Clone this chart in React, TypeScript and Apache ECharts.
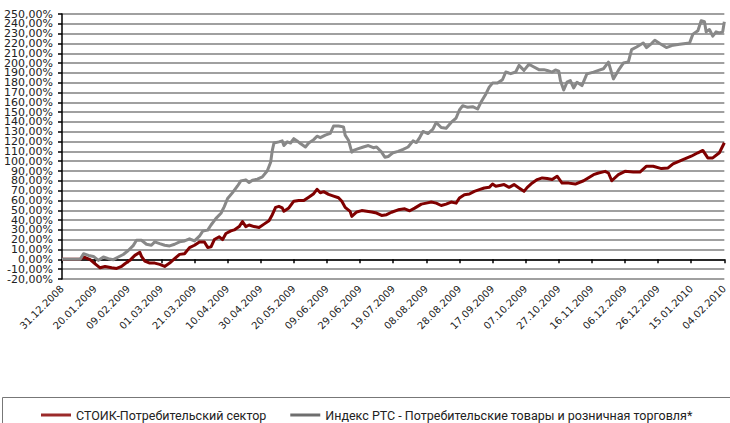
import React, { useEffect, useRef } from "react";
import * as echarts from "echarts";

// Day offsets are counted from 31.12.2008
const START_DATE = Date.UTC(2008, 11, 31);
const X_MIN_DAYS = 0;
const X_MAX_DAYS = 400;
const X_TICK_STEP_DAYS = 20;

const Y_MIN = -20;
const Y_MAX = 250;
const Y_STEP = 10;

const seriesNames = [
  "СТОИК-Потребительский сектор",
  "Индекс РТС - Потребительские товары и розничная торговля*",
];

const stoikDays = [
  0, 11, 13, 17, 20, 23, 26, 30, 33, 36, 38, 41, 44, 47, 48, 50, 53, 56, 59, 62,
  65, 68, 71, 74, 77, 80, 83, 86, 88, 90, 92, 95, 97, 99, 102, 104, 107, 109, 111, 113,
  116, 119, 122, 125, 127, 129, 131, 133, 134, 137, 140, 143, 146, 149, 152, 154, 156, 158, 161, 164,
  167, 169, 171, 174, 175, 178, 181, 184, 187, 190, 193, 196, 199, 203, 207, 210, 213, 217, 220, 223,
  226, 229, 232, 235, 238, 240, 243, 246, 249, 252, 255, 258, 260, 262, 265, 267, 270, 273, 276, 279,
  281, 284, 287, 290, 293, 296, 299, 302, 306, 310, 315, 321, 324, 328, 330, 332, 336, 340, 345, 349,
  353, 357, 362, 366, 369, 375, 380, 384, 387, 390, 393, 397, 400,
];
const stoikValues = [
  0, 0, 2.4, -0.3, -4.5, -8.6, -7.2, -8.6, -9.2, -7.2, -4.5, -1, 4.1, 7.2, 3, -1.7, -3.8, -3.8, -5.1, -7.2,
  -3.8, 0.7, 5.1, 5.8, 12, 14.4, 17.8, 17.8, 12, 12.7, 20.2, 23, 20.2, 26.4, 29, 30, 33.4, 38.6, 33.4, 35,
  33.4, 32.4, 35.9, 39.3, 45.5, 53, 54, 52.4, 49, 52.4, 59.3, 60, 60, 63.4, 66.9, 71.4, 67.9, 69, 66.2, 64.5,
  62.8, 59.3, 53, 48.9, 43.8, 48.3, 49.7, 49, 48.3, 47.2, 44.8, 45.5, 48, 50.5, 51.5, 49.5, 52.2, 56.3, 57.3, 58.4,
  57.3, 54.9, 56.3, 58.4, 57.3, 62.5, 65.9, 66.6, 69.3, 71, 72.7, 73.4, 76.8, 74.5, 75.5, 76.2, 73.4, 76.2, 72.7, 69.3,
  73.4, 77.9, 81.3, 83, 82.3, 81.3, 84.7, 77.7, 77.7, 76.7, 80.1, 86.3, 88, 89.7, 88, 80.1, 86.3, 89.7, 89, 89,
  94.9, 94.9, 92.5, 93.2, 97.3, 101.7, 105.1, 108.6, 111, 103.4, 103.4, 108.6, 118.8,
];

const rtsDays = [
  0, 11, 13, 16, 19, 22, 25, 28, 31, 34, 37, 40, 43, 45, 48, 51, 54, 56, 59, 62,
  65, 68, 71, 74, 77, 80, 83, 85, 88, 90, 93, 96, 98, 100, 103, 106, 108, 111, 113, 115,
  118, 121, 124, 126, 127, 128, 131, 133, 134, 136, 138, 140, 142, 144, 147, 149, 152, 154, 156, 159,
  162, 164, 167, 170, 171, 173, 175, 176, 179, 182, 185, 188, 190, 193, 195, 197, 200, 203, 206, 209,
  212, 214, 216, 218, 221, 224, 226, 229, 232, 235, 238, 240, 242, 245, 248, 251, 253, 256, 258, 260,
  263, 266, 268, 271, 274, 276, 279, 282, 285, 288, 291, 293, 296, 298, 300, 301, 303, 305, 307, 309,
  311, 314, 317, 321, 324, 327, 330, 333, 336, 339, 342, 344, 347, 351, 353, 356, 358, 361, 365, 369,
  373, 379, 381, 384, 386, 388, 389, 391, 393, 395, 397, 399, 400,
];
const rtsValues = [
  0, 0, 5.8, 4, 3, -1, 2.4, 0.7, -0.3, 2.4, 5, 9, 14, 19.5, 19.5, 15.4, 14.4, 17.8, 16, 14.4,
  13.7, 15.4, 17.8, 18.8, 21, 18.8, 23.6, 28.8, 29.8, 35, 41.8, 47, 53.8, 62, 68, 74.8, 80, 81, 78.3, 80.7,
  81.7, 84, 90.3, 99, 111, 118.6, 119.7, 120.7, 116, 119.7, 118.6, 123, 120.7, 118, 114.5, 118.6, 122, 125.5, 124, 126.6,
  128.3, 135.9, 135.9, 135, 126.6, 121.4, 109.3, 111, 112.8, 114.5, 116, 113.8, 114.5, 109.3, 104, 104.8, 108.7, 110, 112.1, 114.5,
  120.7, 119, 124.1, 130.3, 128.2, 132.7, 139.5, 134.4, 133.7, 139.5, 144, 152.2, 156.6, 154.9, 155.6, 153.2, 160, 168.6, 175.5, 179.6,
  179.6, 183, 190.9, 189.2, 190.9, 197.7, 192.6, 198.8, 196, 193.3, 193.3, 192.5, 190.8, 193, 191.8, 182.2, 172.6, 180.5, 182.2, 174.7,
  180.5, 177.1, 189, 190.8, 192.5, 194.2, 201, 183.9, 192.5, 200, 201, 213.7, 216.4, 220.5, 215.8, 219.9, 223.3, 219.9, 215.8, 218.2,
  219.2, 220.5, 229.5, 232.9, 243.2, 242.1, 231.8, 234.2, 227.4, 231.8, 230.8, 231.8, 242.1,
];

function pad2(n: number) {
  return n < 10 ? "0" + n : String(n);
}
function formatDay(day: number) {
  const d = new Date(START_DATE + Math.round(day) * 86400000);
  return pad2(d.getUTCDate()) + "." + pad2(d.getUTCMonth() + 1) + "." + d.getUTCFullYear();
}
function formatPct(v: number) {
  return v.toFixed(2).replace(".", ",") + "%";
}
function tickParity(v: number) {
  return Math.round((v - Y_MIN) / Y_STEP) % 2;
}
function zip(xs: number[], ys: number[]) {
  return xs.map((x, i) => [x, ys[i]]);
}

const AXIS_FONT = "DejaVu Sans";
const LEGEND_FONT = "Roboto";

const yLabelBase = {
  margin: 9,
  fontFamily: AXIS_FONT,
  fontSize: 11,
  color: "#222",
  showMaxLabel: true,
  showMinLabel: true,
  hideOverlap: false,
};

export default function App() {
  const ref = useRef<HTMLDivElement>(null);
  useEffect(() => {
    if (!ref.current) return;
    const chart = echarts.init(ref.current, null, { renderer: "svg" });
    chart.setOption({
      animation: false,
      backgroundColor: "#ffffff",
      grid: { left: 62, right: 1, top: 14, height: 265, containLabel: false },
      xAxis: {
        type: "value",
        min: X_MIN_DAYS,
        max: X_MAX_DAYS,
        interval: X_TICK_STEP_DAYS,
        axisLine: { show: true, lineStyle: { color: "#000", width: 1.5 } },
        axisTick: { show: true, length: 4, lineStyle: { color: "#000", width: 1.5 } },
        splitLine: { show: false },
        axisLabel: {
          rotate: 45,
          margin: 8,
          fontFamily: AXIS_FONT,
          fontSize: 10,
          color: "#222",
          showMaxLabel: true,
          showMinLabel: true,
          hideOverlap: false,
          formatter: (v: number) => formatDay(v),
        },
      },
      yAxis: [
        {
          type: "value",
          position: "left",
          offset: 0,
          min: Y_MIN,
          max: Y_MAX,
          interval: Y_STEP,
          axisLine: { show: true, lineStyle: { color: "#000", width: 1.5 } },
          axisTick: { show: true, length: 4, lineStyle: { color: "#000", width: 1.5 } },
          splitLine: { show: true, lineStyle: { color: "#a0a0a0", width: 2 } },
          axisLabel: {
            ...yLabelBase,
            formatter: (v: number) => (tickParity(v) === 0 ? formatPct(v) : ""),
          },
        },
        {
          type: "value",
          position: "left",
          offset: 0,
          min: Y_MIN,
          max: Y_MAX,
          interval: Y_STEP,
          axisLine: { show: false },
          axisTick: { show: false },
          splitLine: { show: false },
          axisLabel: {
            ...yLabelBase,
            formatter: (v: number) => (tickParity(v) === 1 ? formatPct(v) : ""),
          },
        },
      ],
      legend: {
        left: 36,
        top: 403,
        width: 720,
        itemWidth: 30,
        itemHeight: 3,
        itemGap: 24,
        icon: "rect",
        textStyle: { fontFamily: LEGEND_FONT, fontSize: 12.5, lineHeight: 14, color: "#222" },
        data: seriesNames,
      },
      graphic: [
        {
          type: "rect",
          shape: { x: 2.5, y: 397.5, width: 800, height: 60 },
          style: { fill: "none", stroke: "#777", lineWidth: 1 },
          silent: true,
        },
      ],
      series: [
        {
          name: seriesNames[0],
          type: "line",
          yAxisIndex: 0,
          data: zip(stoikDays, stoikValues),
          showSymbol: false,
          symbol: "none",
          lineStyle: { color: "#800000", width: 3, join: "round" },
          itemStyle: { color: "#9b2a2a" },
          z: 2,
        },
        {
          name: seriesNames[1],
          type: "line",
          yAxisIndex: 0,
          data: zip(rtsDays, rtsValues),
          showSymbol: false,
          symbol: "none",
          lineStyle: { color: "#888888", width: 3, join: "round" },
          itemStyle: { color: "#6e6e6e" },
          z: 3,
        },
      ],
    });
    return () => chart.dispose();
  }, []);
  return (
    <div
      ref={ref}
      style={{ position: "absolute", left: 0, top: 0, width: 730, height: 423 }}
    />
  );
}
